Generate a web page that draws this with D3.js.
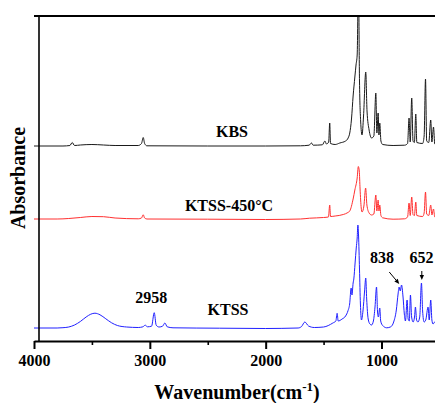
<!DOCTYPE html>
<html>
<head>
<meta charset="utf-8">
<script src="https://cdn.jsdelivr.net/npm/d3@7"></script>
<style>
  html, body { margin: 0; padding: 0; background: #fff; }
  svg { display: block; }
  text { font-family: "Liberation Serif", "Times New Roman", serif; font-weight: bold; fill: #000; }
</style>
</head>
<body>
<svg id="chart" width="435" height="403"></svg>
<script>
// FTIR spectra: [wavenumber (cm-1), absorbance (offset, a.u.)]
const kbs = [
  [4000,1.95],[3750,1.95],[3690,1.955],[3670,1.985],[3650,1.955],[3600,1.96],[3500,1.965],[3400,1.96],
  [3300,1.955],[3100,1.955],[3072,1.975],[3057,2.035],[3045,1.975],[3025,1.952],[2500,1.95],[2000,1.95],
  [1700,1.952],[1625,1.958],[1604,1.98],[1590,1.958],[1510,1.962],[1489,2.0],[1475,1.97],[1456,1.99],
  [1447,2.18],[1440,1.975],[1400,1.965],[1360,1.98],[1310,2.0],[1288,2.03],[1274,2.08],[1259,2.22],
  [1245,2.45],[1230,2.64],[1220,2.76],[1210,2.86],[1199,3.6],[1190,2.6],[1180,2.2],[1168,2.06],
  [1155,2.25],[1136,2.69],[1125,2.3],[1107,2.11],[1086,2.03],[1066,2.05],[1049,2.48],[1040,2.08],
  [1029,2.28],[1022,2.06],[1015,2.18],[1005,2.0],[990,1.965],[900,1.955],[800,1.958],[775,1.975],
  [762,2.23],[752,1.99],[739,2.43],[728,2.0],[716,1.985],[704,2.27],[695,1.985],[645,1.975],
  [632,2.05],[620,2.62],[610,2.0],[592,1.985],[575,2.21],[565,1.99],[551,2.14],[540,1.97],[500,1.96],[400,1.96]
];
const ktss450 = [
  [4000,1.22],[3800,1.22],[3700,1.225],[3600,1.235],[3500,1.245],[3400,1.243],[3300,1.23],[3100,1.222],
  [3072,1.23],[3057,1.262],[3045,1.23],[3025,1.22],[2500,1.218],[2000,1.215],[1700,1.22],[1620,1.228],
  [1500,1.235],[1458,1.24],[1447,1.36],[1440,1.245],[1400,1.25],[1330,1.265],[1290,1.285],[1274,1.3],
  [1245,1.42],[1230,1.51],[1210,1.63],[1200,1.745],[1192,1.7],[1185,1.52],[1175,1.33],[1168,1.29],
  [1152,1.35],[1137,1.53],[1126,1.36],[1107,1.28],[1086,1.26],[1066,1.27],[1049,1.46],[1040,1.3],
  [1029,1.41],[1022,1.3],[1015,1.36],[1005,1.255],[990,1.232],[900,1.218],[800,1.222],[775,1.24],
  [762,1.38],[752,1.255],[739,1.44],[728,1.265],[716,1.255],[704,1.39],[695,1.255],[645,1.245],
  [632,1.28],[620,1.49],[610,1.27],[592,1.255],[575,1.36],[565,1.26],[551,1.32],[540,1.24],[500,1.23],[400,1.225]
];
const ktss = [
  [4000,0.13],[3800,0.13],[3750,0.133],[3700,0.14],[3650,0.16],[3600,0.195],[3550,0.24],[3510,0.268],
  [3474,0.278],[3430,0.262],[3380,0.222],[3330,0.182],[3280,0.155],[3200,0.14],[3100,0.135],[3060,0.142],
  [3040,0.158],[3020,0.142],[2985,0.148],[2962,0.283],[2945,0.158],[2920,0.14],[2890,0.148],[2870,0.18],
  [2850,0.142],[2800,0.132],[2400,0.128],[2000,0.125],[1720,0.13],[1690,0.145],[1662,0.19],[1630,0.15],
  [1580,0.135],[1500,0.14],[1420,0.18],[1394,0.2],[1383,0.277],[1374,0.2],[1340,0.22],[1310,0.25],
  [1290,0.3],[1275,0.37],[1262,0.53],[1255,0.46],[1245,0.58],[1239,0.62],[1228,0.78],[1218,0.93],
  [1210,1.03],[1204,1.16],[1198,1.05],[1190,0.72],[1182,0.37],[1173,0.21],[1160,0.3],[1146,0.5],
  [1136,0.63],[1128,0.42],[1115,0.22],[1100,0.17],[1086,0.16],[1070,0.2],[1056,0.34],[1043,0.54],
  [1034,0.29],[1027,0.24],[1015,0.33],[1007,0.2],[990,0.155],[955,0.132],[920,0.142],[895,0.19],
  [872,0.31],[857,0.47],[848,0.54],[838,0.5],[827,0.56],[814,0.44],[803,0.27],[793,0.2],
  [779,0.41],[770,0.22],[760,0.2],[750,0.46],[740,0.24],[727,0.19],[715,0.24],[707,0.34],
  [697,0.21],[685,0.19],[670,0.24],[655,0.58],[645,0.3],[632,0.19],[618,0.21],[598,0.34],
  [588,0.21],[575,0.41],[565,0.21],[555,0.17],[540,0.19],[500,0.16],[400,0.15]
];

const seriesNames = ["KBS", "KTSS-450\u00B0C", "KTSS"];
const seriesColors = ["#1a1a1a", "#ff3030", "#2020ff"];
const seriesData = [kbs, ktss450, ktss];

const majorTicks = [4000, 3000, 2000, 1000];
const minorTicks = [3500, 2500, 1500, 500];
const peakLabels = ["2958", "838", "652"];
const peakWavenumbers = [2958, 838, 652];

// Layout
const width = 435, height = 403;
const plotLeft = 34, plotRight = 451, plotTop = 16, plotBottom = 341;
const svg = d3.select("#chart");

const x = d3.scaleLinear().domain([4000, 400]).range([plotLeft, plotRight]);
const y = d3.scaleLinear().domain([0, 3.25]).range([plotBottom, plotTop]);

svg.append("defs").append("clipPath").attr("id", "plotClip")
  .append("rect").attr("x", plotLeft).attr("y", plotTop)
  .attr("width", plotRight - plotLeft).attr("height", plotBottom - plotTop);

// Spectra
const line = d3.line()
  .x(d => x(d[0]))
  .y(d => y(d[1]))
  .curve(d3.curveMonotoneX);

svg.append("g").attr("clip-path", "url(#plotClip)")
  .selectAll("path").data(seriesData).join("path")
  .attr("d", line)
  .attr("fill", "none")
  .attr("stroke", (d, i) => seriesColors[i])
  .attr("stroke-width", 1)
  .attr("stroke-linejoin", "round");

// Frame: top border, left border, bottom axis
svg.append("line").attr("x1", plotLeft).attr("x2", width + 20)
  .attr("y1", plotTop).attr("y2", plotTop)
  .attr("stroke", "#000").attr("stroke-width", 1.8);
svg.append("line").attr("x1", 39).attr("x2", 39)
  .attr("y1", plotTop).attr("y2", plotBottom)
  .attr("stroke", "#000").attr("stroke-width", 1.6);

const xAxis = d3.axisBottom(x)
  .tickValues(majorTicks)
  .tickSize(8)
  .tickSizeOuter(0)
  .tickPadding(6)
  .tickFormat(d3.format("d"));
const gx = svg.append("g").attr("transform", `translate(0,${plotBottom})`).call(xAxis);
gx.select(".domain").attr("stroke", "#000").attr("stroke-width", 2);
gx.selectAll(".tick line").attr("stroke", "#000").attr("stroke-width", 2);
gx.selectAll(".tick text")
  .attr("font-family", "\"Liberation Serif\", \"Times New Roman\", serif")
  .attr("font-weight", "bold").attr("font-size", 16).attr("fill", "#000");

const xMinor = d3.axisBottom(x).tickValues(minorTicks).tickSize(4).tickSizeOuter(0).tickFormat("");
const gm = svg.append("g").attr("transform", `translate(0,${plotBottom})`).call(xMinor);
gm.select(".domain").remove();
gm.selectAll(".tick line").attr("stroke", "#000").attr("stroke-width", 1.6);

// Axis titles
svg.append("text")
  .attr("transform", "translate(25,178) rotate(-90)")
  .attr("text-anchor", "middle")
  .attr("font-size", 20)
  .text("Absorbance");

const xt = svg.append("text")
  .attr("x", 237).attr("y", 399)
  .attr("text-anchor", "middle")
  .attr("font-size", 20);
xt.append("tspan").text("Wavenumber(cm");
xt.append("tspan").attr("font-size", 13).attr("dy", -8).text("-1");
xt.append("tspan").attr("dy", 8).text(")");

// Series names
const namePos = [[232, 137], [229, 211], [228, 315]];
svg.append("g").selectAll("text").data(seriesNames).join("text")
  .attr("x", (d, i) => namePos[i][0])
  .attr("y", (d, i) => namePos[i][1])
  .attr("text-anchor", "middle")
  .attr("font-size", 16)
  .text(d => d);

// Peak annotations
const ann = svg.append("g");
ann.append("text").attr("x", x(peakWavenumbers[0]) - 3.5).attr("y", 303)
  .attr("text-anchor", "middle").attr("font-size", 16).text(peakLabels[0]);
ann.append("text").attr("x", 382).attr("y", 263)
  .attr("text-anchor", "middle").attr("font-size", 16).text(peakLabels[1]);
ann.append("text").attr("x", 409.5).attr("y", 263)
  .attr("text-anchor", "start").attr("font-size", 16).text(peakLabels[2]);

function arrow(x1, y1, x2, y2) {
  const ang = Math.atan2(y2 - y1, x2 - x1);
  const len = 5, half = 2.2;
  const bx = x2 - len * Math.cos(ang), by = y2 - len * Math.sin(ang);
  ann.append("line").attr("x1", x1).attr("y1", y1).attr("x2", bx).attr("y2", by)
    .attr("stroke", "#000").attr("stroke-width", 1);
  ann.append("path")
    .attr("d", `M${x2},${y2}L${bx - half * Math.sin(ang)},${by + half * Math.cos(ang)}L${bx + half * Math.sin(ang)},${by - half * Math.cos(ang)}Z`)
    .attr("fill", "#000");
}
const tip838 = [x(peakWavenumbers[1]) - 1, y(0.57)];
arrow(tip838[0] - 10, tip838[1] - 12, tip838[0], tip838[1]);
const tip652 = [x(peakWavenumbers[2]), y(0.61)];
arrow(tip652[0], tip652[1] - 9, tip652[0], tip652[1]);
</script>
</body>
</html>
